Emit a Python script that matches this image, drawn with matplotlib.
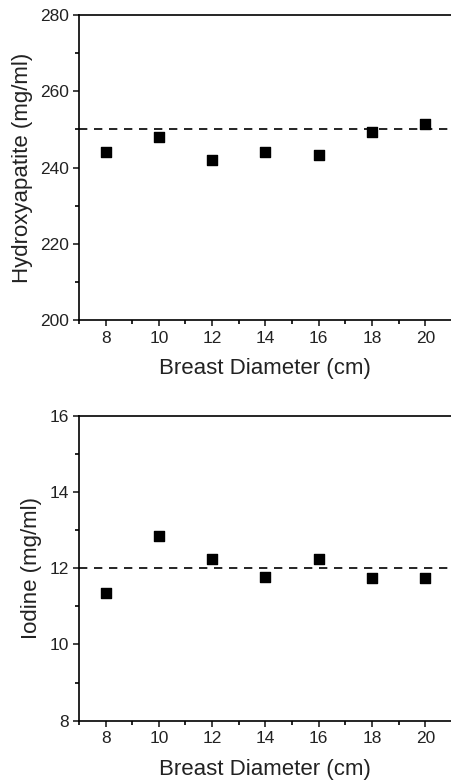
import matplotlib
matplotlib.use('Agg')
import matplotlib.pyplot as plt
from matplotlib.ticker import MultipleLocator

plt.rcParams['font.family'] = ['Liberation Sans', 'DejaVu Sans']
plt.rcParams['axes.linewidth'] = 1.2
plt.rcParams['xtick.major.width'] = 1.2
plt.rcParams['ytick.major.width'] = 1.2
plt.rcParams['xtick.minor.width'] = 1.2
plt.rcParams['ytick.minor.width'] = 1.2

# data
diameter = [8, 10, 12, 14, 16, 18, 20]
hydroxyapatite = [244.0, 248.0, 241.9, 244.0, 243.3, 249.2, 251.5]
iodine = [11.35, 12.85, 12.25, 11.77, 12.23, 11.75, 11.74]
ha_true = 250
iodine_true = 12

fig = plt.figure(figsize=(4.51, 7.83), dpi=100)
ax1 = fig.add_axes([0.175, 0.591, 0.827, 0.390])
ax2 = fig.add_axes([0.175, 0.0796, 0.827, 0.3894])


def style(ax, ylim, ystep, ylabel):
    ax.set_xlim(7, 21)
    ax.set_ylim(*ylim)
    ax.xaxis.set_major_locator(MultipleLocator(2))
    ax.xaxis.set_minor_locator(MultipleLocator(1))
    ax.yaxis.set_major_locator(MultipleLocator(ystep))
    ax.yaxis.set_minor_locator(MultipleLocator(ystep / 2))
    ax.spines['right'].set_visible(False)
    ax.tick_params(which='major', direction='out', length=4, labelsize=12.5,
                   colors='#222222', labelcolor='#222222')
    ax.tick_params(which='minor', direction='out', length=3)
    ax.set_xlabel('Breast Diameter (cm)', fontsize=16, color='#222222', labelpad=9)
    ax.set_ylabel(ylabel, fontsize=16, color='#222222', labelpad=5)


ax1.scatter(diameter, hydroxyapatite, marker='s', s=42, color='black', zorder=3)
ax1.axhline(ha_true, color='black', linestyle=(0, (5, 4)), linewidth=1.2)
style(ax1, (200, 280), 20, 'Hydroxyapatite (mg/ml)')

ax2.scatter(diameter, iodine, marker='s', s=42, color='black', zorder=3)
ax2.axhline(iodine_true, color='black', linestyle=(0, (5, 4)), linewidth=1.2)
style(ax2, (8, 16), 2, 'Iodine (mg/ml)')

fig.savefig('out.png', dpi=100, facecolor='white')
